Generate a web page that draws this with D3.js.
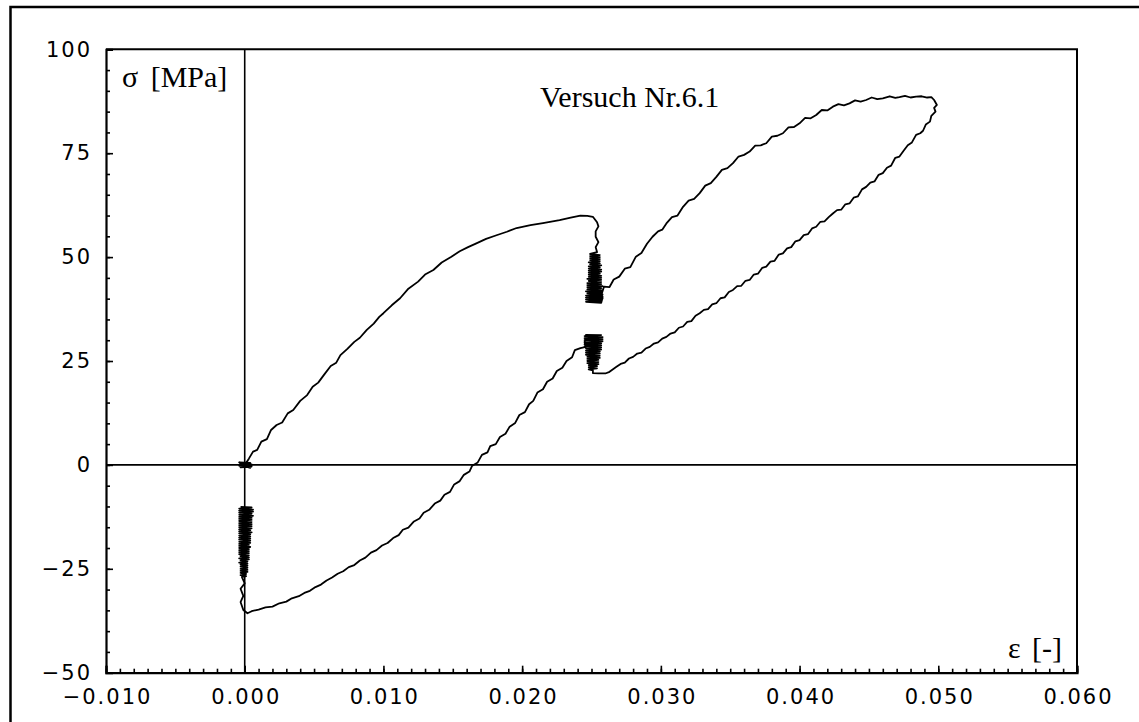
<!DOCTYPE html>
<html>
<head>
<meta charset="utf-8">
<script src="https://cdn.jsdelivr.net/npm/d3@7/dist/d3.min.js"></script>
<style>
  html, body { margin: 0; padding: 0; background: #fff; }
  svg { display: block; }
  .tick text { font-family: "DejaVu Sans", sans-serif; font-size: 21px; letter-spacing: 2px; fill: #000; }
  .serif { font-family: "Liberation Serif", "Times New Roman", serif; fill: #000; }
</style>
</head>
<body>
<svg id="chart" width="1139" height="722"></svg>
<script>
// Stress-strain record of test 6.1: strain [-] and stress [MPa], in recording order.

// small cluster at the origin before loading
const originHold = [
  [-0.0004, 0.3], [0.0005, 0.1], [-0.0004, -0.2], [0.0005, -0.4], [-0.0003, -0.6], [0.0004, 0.5],
  [-0.0004, 0.6], [0.0005, -0.1], [-0.0003, 0.0], [0.0004, -0.7], [0.0000, 0.0]
];

// first loading up to ~60 MPa
const firstLoading = [
  [0.0000, 0.0], [0.0003, 1.5], [0.0006, 3.2], [0.0009, 3.6], [0.0012, 5.6], [0.0016, 6.2], [0.0019, 8.4],
  [0.0023, 9.6], [0.0027, 10.2], [0.0031, 12.4], [0.0035, 13.2], [0.0040, 15.4], [0.0045, 16.8], [0.0049, 18.8],
  [0.0053, 19.8], [0.0057, 21.6], [0.0062, 23.8], [0.0066, 24.6], [0.0069, 26.4], [0.0074, 27.9], [0.0079, 29.6],
  [0.0083, 30.6], [0.0088, 32.5], [0.0093, 34.0], [0.0097, 35.6], [0.0100, 36.5], [0.0106, 38.4], [0.0112, 40.1],
  [0.0118, 42.4], [0.0125, 44.1], [0.0130, 45.8], [0.0136, 46.9], [0.0142, 48.7], [0.0149, 50.1], [0.0155, 51.4],
  [0.0161, 52.4], [0.0167, 53.3], [0.0174, 54.4], [0.0181, 55.2], [0.0189, 56.1], [0.0196, 57.0], [0.0206, 57.7],
  [0.0215, 58.2], [0.0227, 58.9], [0.0235, 59.5], [0.0242, 60.0], [0.0247, 59.9], [0.0251, 59.7], [0.0254, 58.4],
  [0.0255, 57.4], [0.0253, 56.2], [0.0253, 54.9], [0.0255, 53.6], [0.0253, 52.4], [0.0254, 51.2]
];

// relaxation cycles at constant strain (upper hold)
const upperHold = [
  [0.0249, 50.75], [0.0256, 50.5], [0.0249, 50.25], [0.0256, 50.0], [0.0249, 49.75], [0.0256, 49.5], [0.0249, 49.25],
  [0.0256, 49.0], [0.0248, 48.75], [0.0256, 48.5], [0.0249, 48.25], [0.0257, 48.0], [0.0248, 47.75], [0.0256, 47.5],
  [0.0248, 47.25], [0.0257, 47.0], [0.0248, 46.75], [0.0257, 46.5], [0.0248, 46.25], [0.0256, 46.0], [0.0248, 45.75],
  [0.0257, 45.5], [0.0248, 45.25], [0.0257, 45.0], [0.0247, 44.75], [0.0257, 44.5], [0.0248, 44.25], [0.0257, 44.0],
  [0.0247, 43.75], [0.0257, 43.5], [0.0247, 43.25], [0.0258, 43.0], [0.0247, 42.75], [0.0257, 42.5], [0.0247, 42.25],
  [0.0258, 42.0], [0.0246, 41.75], [0.0257, 41.5], [0.0247, 41.25], [0.0258, 41.0], [0.0246, 40.75], [0.0258, 40.5],
  [0.0246, 40.25], [0.0258, 40.0], [0.0246, 39.75], [0.0257, 39.5], [0.0246, 39.25], [0.0257, 39.0], [0.0258, 40.2],
  [0.02575, 41.3]
];

// reloading up to the maximum of ~88.8 MPa
const reloading = [
  [0.02575, 41.3], [0.0259, 42.9], [0.0263, 42.8], [0.0266, 44.6], [0.0270, 45.3], [0.0274, 47.2], [0.0278, 47.6],
  [0.0282, 50.1], [0.0286, 51.0], [0.0290, 53.2], [0.0294, 54.9], [0.0298, 56.2], [0.0301, 56.6], [0.0304, 58.1],
  [0.0308, 59.6], [0.0312, 60.0], [0.0316, 62.1], [0.0320, 63.6], [0.0324, 64.0], [0.0328, 65.4], [0.0332, 67.2],
  [0.0336, 67.8], [0.0340, 69.3], [0.0344, 71.0], [0.0348, 71.4], [0.0352, 72.6], [0.0356, 74.2], [0.0360, 74.6],
  [0.0364, 75.4], [0.0368, 76.8], [0.0372, 76.9], [0.0376, 77.4], [0.0380, 79.0], [0.0384, 79.2], [0.0388, 79.8],
  [0.0392, 81.2], [0.0396, 81.3], [0.0400, 82.2], [0.0404, 83.5], [0.0408, 83.4], [0.0412, 84.2], [0.0416, 85.4],
  [0.0420, 85.3], [0.0424, 86.2], [0.0428, 86.8], [0.0432, 86.5], [0.0436, 87.0], [0.0440, 87.7], [0.0444, 87.4],
  [0.0448, 87.8], [0.0452, 88.4], [0.0456, 88.0], [0.0460, 88.2], [0.0465, 88.7], [0.0469, 88.3], [0.0472, 88.5],
  [0.0476, 88.8], [0.0480, 88.4], [0.0484, 88.6], [0.0488, 88.7], [0.0492, 88.4], [0.0495, 88.5], [0.0497, 87.8],
  [0.0499, 86.6], [0.0497, 85.9], [0.0498, 85.0], [0.0495, 84.0], [0.0494, 82.6]
];

// unloading back to ~22 MPa
const unloading = [
  [0.0494, 82.6], [0.0491, 81.9], [0.0489, 80.4], [0.0487, 79.8], [0.0484, 79.4], [0.0481, 77.6], [0.0478, 76.9],
  [0.0475, 75.6], [0.0472, 74.2], [0.0469, 73.9], [0.0466, 72.0], [0.0463, 71.5], [0.0460, 70.2], [0.0457, 69.8],
  [0.0454, 68.2], [0.0451, 67.9], [0.0448, 66.9], [0.0445, 66.3], [0.0442, 64.6], [0.0439, 64.3], [0.0436, 62.9],
  [0.0433, 62.7], [0.0430, 61.4], [0.0427, 61.3], [0.0424, 60.5], [0.0421, 59.6], [0.0418, 58.6], [0.0415, 58.5],
  [0.0412, 57.3], [0.0409, 56.9], [0.0406, 55.5], [0.0403, 55.3], [0.0400, 54.1], [0.0397, 53.8], [0.0394, 52.4],
  [0.0391, 52.1], [0.0388, 50.9], [0.0385, 50.6], [0.0382, 49.1], [0.0379, 48.9], [0.0376, 47.7], [0.0373, 47.4],
  [0.0370, 46.0], [0.0367, 45.8], [0.0364, 44.5], [0.0361, 44.3], [0.0358, 43.1], [0.0355, 43.0], [0.0352, 42.1],
  [0.0349, 41.6], [0.0346, 40.3], [0.0343, 40.1], [0.0340, 38.9], [0.0337, 38.6], [0.0334, 37.5], [0.0331, 37.3],
  [0.0328, 36.5], [0.0325, 35.9], [0.0322, 34.6], [0.0319, 34.4], [0.0316, 33.3], [0.0313, 33.0], [0.0310, 31.9],
  [0.0307, 31.6], [0.0304, 30.8], [0.0301, 30.4], [0.0298, 29.5], [0.0295, 29.2], [0.0292, 28.4], [0.0289, 28.0],
  [0.0286, 27.0], [0.0283, 26.8], [0.0280, 26.0], [0.0277, 25.6], [0.0274, 24.6], [0.0271, 24.3], [0.0268, 23.6],
  [0.0265, 22.9], [0.0263, 22.4], [0.0260, 22.0], [0.0255, 22.0], [0.0251, 22.1]
];

// cycles at constant strain (lower hold)
const lowerHold = [
  [0.0251, 22.75], [0.0248, 23.0], [0.0254, 23.25], [0.0248, 23.5], [0.0254, 23.75], [0.0248, 24.0], [0.0255, 24.25],
  [0.0247, 24.5], [0.0255, 24.75], [0.0247, 25.0], [0.0255, 25.25], [0.0247, 25.5], [0.0256, 25.75], [0.0247, 26.0],
  [0.0256, 26.25], [0.0246, 26.5], [0.0256, 26.75], [0.0246, 27.0], [0.0256, 27.25], [0.0246, 27.5], [0.0257, 27.75],
  [0.0246, 28.0], [0.0257, 28.25], [0.0245, 28.5], [0.0257, 28.75], [0.0245, 29.0], [0.0257, 29.25], [0.0245, 29.5],
  [0.0258, 29.75], [0.0245, 30.0], [0.0258, 30.25], [0.0245, 30.5], [0.0258, 30.75], [0.0245, 31.0], [0.0257, 31.25],
  [0.0246, 31.3], [0.0245, 29.5], [0.0246, 28.4]
];

// reverse loading into compression down to ~-35.7 MPa
const reverseLoading = [
  [0.0242, 28.1], [0.0238, 27.6], [0.0236, 25.9], [0.0232, 25.0], [0.0229, 23.4], [0.0225, 22.6], [0.0222, 20.8],
  [0.0218, 20.0], [0.0215, 18.2], [0.0211, 17.4], [0.0208, 15.4], [0.0205, 14.6], [0.0202, 12.7], [0.0198, 12.0],
  [0.0195, 10.1], [0.0191, 9.2], [0.0188, 7.5], [0.0184, 6.7], [0.0181, 5.0], [0.0177, 4.5], [0.0175, 3.0],
  [0.0171, 2.4], [0.0168, 0.6], [0.0164, -0.2], [0.0162, -1.6], [0.0158, -2.4], [0.0155, -3.9], [0.0151, -4.7],
  [0.0148, -6.5], [0.0144, -7.2], [0.0141, -8.6], [0.0137, -9.3], [0.0133, -10.8], [0.0129, -11.5], [0.0126, -12.9],
  [0.0122, -13.6], [0.0118, -15.1], [0.0114, -15.6], [0.0111, -16.9], [0.0107, -17.6], [0.0103, -18.8], [0.0099, -19.4],
  [0.0095, -20.5], [0.0091, -21.1], [0.0087, -22.3], [0.0083, -23.0], [0.0079, -24.1], [0.0075, -24.6], [0.0071, -25.6],
  [0.0067, -26.2], [0.0063, -27.1], [0.0059, -27.8], [0.0055, -28.8], [0.0051, -29.4], [0.0047, -30.3], [0.0043, -30.8],
  [0.0039, -31.6], [0.0034, -32.1], [0.0030, -32.9], [0.0025, -33.3], [0.0020, -34.1], [0.0015, -34.3], [0.0010, -34.8],
  [0.0005, -35.2], [0.0002, -35.7], [-0.0001, -34.9], [-0.0003, -33.0], [-0.0001, -31.5], [-0.0003, -29.8],
  [0.0000, -28.5], [-0.0002, -27.0]
];

// cycles at zero strain in compression
const compressionHold = [
  [0.0001, -26.75], [-0.0003, -26.5], [0.0001, -26.25], [-0.0003, -26.0], [0.0002, -25.75], [-0.0003, -25.5],
  [0.0002, -25.25], [-0.0003, -25.0], [0.0002, -24.75], [-0.0003, -24.5], [0.0002, -24.25], [-0.0003, -24.0],
  [0.0002, -23.75], [-0.0004, -23.5], [0.0002, -23.25], [-0.0003, -23.0], [0.0003, -22.75], [-0.0004, -22.5],
  [0.0003, -22.25], [-0.0003, -22.0], [0.0003, -21.75], [-0.0004, -21.5], [0.0003, -21.25], [-0.0004, -21.0],
  [0.0003, -20.75], [-0.0004, -20.5], [0.0003, -20.25], [-0.0004, -20.0], [0.0004, -19.75], [-0.0004, -19.5],
  [0.0003, -19.25], [-0.0004, -19.0], [0.0004, -18.75], [-0.0004, -18.5], [0.0004, -18.25], [-0.0004, -18.0],
  [0.0004, -17.75], [-0.0004, -17.5], [0.0004, -17.25], [-0.0004, -17.0], [0.0004, -16.75], [-0.0004, -16.5],
  [0.0005, -16.25], [-0.0004, -16.0], [0.0004, -15.75], [-0.0004, -15.5], [0.0005, -15.25], [-0.0004, -15.0],
  [0.0005, -14.75], [-0.0004, -14.5], [0.0005, -14.25], [-0.0004, -14.0], [0.0005, -13.75], [-0.0004, -13.5],
  [0.0005, -13.25], [-0.0004, -13.0], [0.0005, -12.75], [-0.0004, -12.5], [0.0006, -12.25], [-0.0004, -12.0],
  [0.0005, -11.75], [-0.0004, -11.5], [0.0006, -11.25], [-0.0004, -11.0], [0.0006, -10.75], [-0.0004, -10.5],
  [0.0005, -10.25], [-0.0003, -10.1]
];

// axis ticks and labels
const strainTicks = [-0.010, 0.000, 0.010, 0.020, 0.030, 0.040, 0.050, 0.060];
const stressTicks = [-50, -25, 0, 25, 50, 75, 100];
const title = "Versuch Nr.6.1";
const stressLabel = "σ [MPa]";
const strainLabel = "ε [-]";

const record = [].concat(originHold, firstLoading, upperHold, reloading, unloading,
                         lowerHold, reverseLoading, compressionHold);

const svg = d3.select("#chart");
const plot = { left: 106, right: 1077, top: 49.3, bottom: 672.7 };

const x = d3.scaleLinear().domain([-0.010, 0.060]).range([plot.left, plot.right]);
const y = d3.scaleLinear().domain([-50, 100]).range([plot.bottom, plot.top]);

// outer border
svg.append("path")
  .attr("d", `M10.5,730 V7 H1150`)
  .attr("fill", "none").attr("stroke", "#000").attr("stroke-width", 2.5);

// plot box (top and right edges)
svg.append("path")
  .attr("d", `M${plot.left},${plot.top} H${plot.right} V${plot.bottom}`)
  .attr("fill", "none").attr("stroke", "#000").attr("stroke-width", 2);

// zero lines
svg.append("line")
  .attr("x1", x(0)).attr("x2", x(0)).attr("y1", plot.top).attr("y2", plot.bottom)
  .attr("stroke", "#000").attr("stroke-width", 1.6);
svg.append("line")
  .attr("x1", plot.left).attr("x2", plot.right).attr("y1", y(0)).attr("y2", y(0))
  .attr("stroke", "#000").attr("stroke-width", 1.6);

// the curve
const line = d3.line().x(d => x(d[0])).y(d => y(d[1]));
svg.append("path")
  .datum(record)
  .attr("d", line)
  .attr("fill", "none")
  .attr("stroke", "#000")
  .attr("stroke-width", 1.8)
  .attr("stroke-linejoin", "round");

// x axis: minor ticks then major ticks with labels
const xMinor = d3.range(-10, 61).map(i => i / 1000);
svg.append("g")
  .attr("transform", `translate(0,${plot.bottom})`)
  .call(d3.axisBottom(x).tickValues(xMinor).tickSize(-4).tickFormat(""))
  .call(g => g.select(".domain").remove())
  .call(g => g.selectAll(".tick line").attr("stroke-width", 1.6));
svg.append("g")
  .attr("transform", `translate(0,${plot.bottom})`)
  .call(d3.axisBottom(x).tickValues(strainTicks).tickSize(-7).tickPadding(16.4).tickFormat(d3.format(".3f")))
  .call(g => g.select(".domain").attr("stroke-width", 2.2))
  .call(g => g.selectAll(".tick line").attr("stroke-width", 1.6))
  .call(g => g.selectAll(".tick text").attr("dx", "1px"));

// y axis: minor ticks then major ticks with labels
const yMinor = d3.range(-50, 101, 5);
svg.append("g")
  .attr("transform", `translate(${plot.left},0)`)
  .call(d3.axisLeft(y).tickValues(yMinor).tickSize(-4).tickFormat(""))
  .call(g => g.select(".domain").remove())
  .call(g => g.selectAll(".tick line").attr("stroke-width", 1.6));
svg.append("g")
  .attr("transform", `translate(${plot.left},0)`)
  .call(d3.axisLeft(y).tickValues(stressTicks).tickSize(-7).tickPadding(14).tickFormat(d3.format("d")))
  .call(g => g.select(".domain").attr("stroke-width", 2.2))
  .call(g => g.selectAll(".tick line").attr("stroke-width", 1.6));

svg.selectAll(".tick text").attr("font-family", null).attr("font-size", null);

// labels
const sLab = svg.append("text").attr("class", "serif")
  .attr("x", 122).attr("y", 87).attr("font-size", 30);
sLab.append("tspan").text(stressLabel.slice(0, 1));
sLab.append("tspan").attr("dx", 5).text(stressLabel.slice(1));

svg.append("text").attr("class", "serif")
  .attr("x", 540).attr("y", 107).attr("font-size", 30).text(title);

const eLab = svg.append("text").attr("class", "serif")
  .attr("x", 1062).attr("y", 658).attr("text-anchor", "end").attr("font-size", 30);
eLab.append("tspan").text(strainLabel.slice(0, 1));
eLab.append("tspan").attr("dx", 4).text(strainLabel.slice(1));
</script>
</body>
</html>
